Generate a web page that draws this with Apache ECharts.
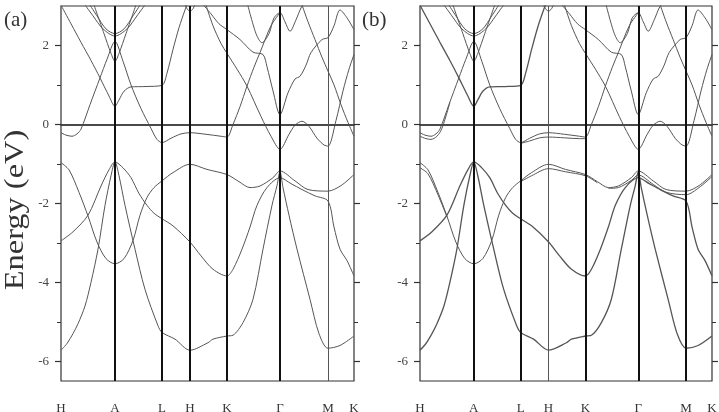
<!DOCTYPE html>
<html><head><meta charset="utf-8">
<script src="https://cdn.jsdelivr.net/npm/echarts@6/dist/echarts.min.js"></script>
<style>html,body{margin:0;padding:0;background:#fff}#c{width:719px;height:412px}</style>
</head><body><div id="c"></div>
<script>
// High-symmetry points (k positions) and labels
const kpos = [0, 54, 101, 129, 166, 219, 267, 293];
const klabels = ['H', 'A', 'L', 'H', 'K', 'Γ', 'M', 'K'];
const yMajor = [-6, -4, -2, 0, 2];
const yMinor = [-5, -3, -1, 1];

// Bands: [k, E(eV)]
const bandB1 = [[0,-0.97],[8,-1.15],[18,-1.72],[27,-2.32],[36,-2.98],[45,-3.4],[54,-3.53],[63,-3.4],[72,-2.94],[79,-2.3],[86,-1.85],[93,-1.6],[101,-1.43],[112,-1.22],[129,-1.01],[146,-1.14],[166,-1.27],[178,-1.45],[189,-1.6],[199,-1.56],[212,-1.35],[219,-1.18],[234,-1.43],[247,-1.65],[267,-1.69],[280,-1.55],[293,-1.27]];
const bandB2 = [[0,-2.95],[12,-2.72],[27,-2.3],[40,-1.56],[48,-1.15],[54,-0.95],[62,-1.1],[70,-1.35],[78,-1.75],[86,-2.05],[93,-2.25],[101,-2.39],[112,-2.57],[129,-2.98],[140,-3.33],[152,-3.67],[166,-3.84],[172,-3.67],[181,-3.16],[189,-2.6],[196,-2.05],[206,-1.6],[219,-1.35],[230,-1.5],[241,-1.65],[254,-1.81],[267,-1.94],[273,-2.6],[279,-3.16],[286,-3.45],[293,-3.84]];
const bandB3 = [[0,-5.72],[6,-5.55],[12,-5.3],[17,-5.05],[24,-4.6],[30,-4.0],[37,-3.16],[44,-2.05],[50,-1.3],[54,-0.95],[58,-1.3],[64,-2.05],[74,-3.16],[84,-4.18],[97,-5.1],[101,-5.27],[114,-5.44],[129,-5.72],[147,-5.53],[152,-5.44],[166,-5.36],[172,-5.34],[182,-5.02],[192,-4.43],[202,-3.16],[211,-2.05],[216,-1.55],[219,-1.2],[222,-1.6],[228,-2.3],[236,-3.16],[249,-4.43],[258,-5.3],[267,-5.67],[279,-5.6],[293,-5.36]];
const bandP1 = [[0,3.02],[10,2.55],[20,2.08],[30,1.62],[39,1.18],[48,0.72],[54,0.46],[58,0.62],[63,0.84],[70,0.95],[85,0.96],[101,0.99],[106,1.3],[112,1.9],[118,2.45],[124,2.9],[127,3.1]];
const bandP2 = [[0,-0.21],[5,-0.27],[11,-0.3],[16,-0.24],[20,-0.12],[29,0.5],[39,1.18],[46,1.65],[54,2.1],[62,1.6],[70,1.0],[80,0.4],[90,-0.1],[96,-0.38],[101,-0.46],[110,-0.35],[120,-0.24],[129,-0.21],[145,-0.25],[160,-0.3],[166,-0.32],[172,0.0],[179,0.45],[186,0.97],[193,1.45],[199,1.82],[210,2.5],[219,2.83]];
const bandP3 = [[32,3.1],[43,2.3],[50,1.8],[54,1.6],[58,1.8],[65,2.3],[76,3.1]];
const bandP4 = [[22,3.1],[32,2.75],[42,2.42],[54,2.24],[66,2.42],[76,2.75],[86,3.1]];
const bandP4b = [[27,3.1],[36,2.75],[45,2.42],[54,2.3],[63,2.42],[72,2.75],[81,3.1]];
const bandP5 = [[123,3.1],[126,2.93],[129,2.87],[132,2.93],[135,3.1]];
const bandP7 = [[140,3.1],[150,2.8],[158,2.55],[166,2.4],[179,2.15],[192,1.83],[202,1.77],[206,1.46],[212,0.85],[219,0.25],[227,0.8],[234,1.15],[239,1.22],[245,1.5],[250,1.82],[261,2.15],[267,2.2],[273,2.5],[279,2.9],[286,2.7],[293,2.4]];
const bandP8 = [[144,3.1],[152,2.5],[160,2.05],[166,1.8],[176,1.4],[186,0.97],[200,0.2],[210,-0.3],[219,-0.63],[228,-0.25],[234,-0.02],[241,0.08],[248,-0.05],[256,-0.35],[263,-0.52],[267,-0.55],[275,0.1],[282,0.85],[288,1.4],[293,1.77]];
const bandP9 = [[186,3.1],[195,2.3],[201,2.07],[208,2.3],[213,2.7],[219,2.83],[224,2.6],[229,2.36],[235,2.65],[240,2.95],[244,3.1]];
const bandP12 = [[240,3.1],[247,2.6],[254,2.15],[261,1.7],[267,1.35],[273,1.0],[280,0.5],[287,0.05],[293,-0.3]];

// Extra split bands seen in panel (b)
const splitQ1 = [[0,-0.3],[6,-0.36],[11,-0.38],[17,-0.3],[22,-0.1],[30,0.55]];
const splitQ2 = [[101,-0.48],[110,-0.42],[120,-0.34],[129,-0.32],[145,-0.34],[160,-0.36],[166,-0.36]];
const splitQ3 = [[0,-1.1],[8,-1.25],[18,-1.78],[27,-2.34]];
const splitQ5 = [[101,-1.45],[112,-1.3],[129,-1.12],[146,-1.2],[166,-1.3],[178,-1.48]];
const splitQ6 = [[189,-1.62],[199,-1.6],[212,-1.42],[219,-1.28],[234,-1.52],[247,-1.72],[267,-1.78],[280,-1.6],[293,-1.32]];

const bandsA = [bandB1, bandB2, bandB3, bandP1, bandP2, bandP3, bandP4, bandP4b, bandP5, bandP7, bandP8, bandP9, bandP12];
const bandsB = bandsA.concat([splitQ1, splitQ2, splitQ3, splitQ5, splitQ6]);
const thickB = [bandB2, bandB3, bandP1];

const serif = 'Liberation Serif';
const grids = [
  {left: 61, top: 6, width: 293, height: 375},
  {left: 420, top: 6, width: 292, height: 375}
];
const thinLine = [6, 3]; // index into kpos: (a) M thin, (b) second H thin

const option = {
  animation: false,
  grid: grids.map(g => Object.assign({show: true, borderColor: '#333', borderWidth: 1.2, containLabel: false, outerBoundsMode: 'none'}, g)),
  xAxis: grids.map((g, gi) => ({
    type: 'value', gridIndex: gi, min: 0, max: 293,
    axisLine: {show: true, lineStyle: {color: '#222', width: 1.6}},
    axisTick: {show: false}, splitLine: {show: false},
    axisLabel: {
      customValues: kpos, showMinLabel: true, showMaxLabel: true,
      margin: 21, fontFamily: serif, fontSize: 13, color: '#333',
      formatter: v => { const i = kpos.indexOf(v); return i >= 0 ? klabels[i] : ''; }
    }
  })),
  yAxis: [],
  series: [],
  graphic: [
    {type: 'text', x: 4, y: 10, style: {text: '(a)', font: '21px "Liberation Serif"', fill: '#333'}},
    {type: 'text', x: 362, y: 10, style: {text: '(b)', font: '21px "Liberation Serif"', fill: '#333'}},
    {type: 'text', x: 16, y: 210, rotation: Math.PI / 2, scaleX: 1.2,
     style: {text: 'Energy (eV)', font: '27px "Liberation Serif"', fill: '#333', textAlign: 'center', textVerticalAlign: 'middle'}}
  ]
};

grids.forEach((g, gi) => {
  const base = {type: 'value', gridIndex: gi, min: -6.5, max: 3, splitLine: {show: false}, axisLine: {show: false}};
  option.yAxis.push(Object.assign({}, base, {position: 'left',
    axisTick: {show: true, length: 6, customValues: yMajor, lineStyle: {color: '#333', width: 1.2}},
    axisLabel: {show: true, customValues: yMajor, margin: 12, fontFamily: serif, fontSize: 13, color: '#444'}}));
  option.yAxis.push(Object.assign({}, base, {position: 'left',
    axisTick: {show: true, length: 4, customValues: yMinor, lineStyle: {color: '#333', width: 1}},
    axisLabel: {show: false}}));
  option.yAxis.push(Object.assign({}, base, {position: 'right',
    axisTick: {show: true, length: 6, customValues: yMajor, lineStyle: {color: '#333', width: 1.2}},
    axisLabel: {show: false}}));
  option.yAxis.push(Object.assign({}, base, {position: 'right',
    axisTick: {show: true, length: 4, customValues: yMinor, lineStyle: {color: '#333', width: 1}},
    axisLabel: {show: false}}));

  const bands = gi === 0 ? bandsA : bandsB;
  bands.forEach((b, bi) => {
    const s = {
      type: 'line', xAxisIndex: gi, yAxisIndex: gi * 4, data: b,
      showSymbol: false, symbol: 'none', smooth: 0.3,
      clip: true, silent: true,
      lineStyle: {color: '#555', width: (gi === 1 && thickB.includes(b)) ? 1.3 : 1}
    };
    if (bi === 0) {
      const ml = [{yAxis: 0, lineStyle: {color: '#444', width: 1.5, type: 'solid'}}];
      kpos.slice(1, -1).forEach((k, ki) => {
        const thin = (ki + 1) === thinLine[gi];
        ml.push({xAxis: k, lineStyle: {color: thin ? '#555' : '#111', width: thin ? 1 : 2, type: 'solid'}});
      });
      s.markLine = {silent: true, symbol: ['none', 'none'], label: {show: false}, animation: false, data: ml};
    }
    option.series.push(s);
  });
});

const chart = echarts.init(document.getElementById('c'), null, {renderer: 'canvas'});
chart.setOption(option);
</script>
</body></html>
